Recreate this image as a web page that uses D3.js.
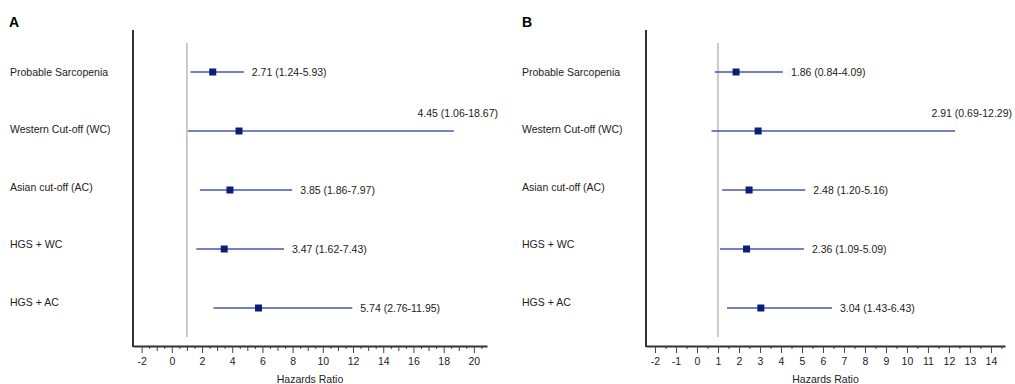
<!DOCTYPE html>
<html>
<head>
<meta charset="utf-8">
<script src="https://cdn.jsdelivr.net/npm/d3@7"></script>
<style>
  body { margin: 0; background: #fff; }
  svg { font-family: "Liberation Sans", Arial, sans-serif; }
</style>
</head>
<body>
<svg id="chart" width="1015" height="384"></svg>
<script>
const categories = ["Probable Sarcopenia", "Western Cut-off (WC)", "Asian cut-off (AC)", "HGS + WC", "HGS + AC"]

// panel A (drawn values)
const hrA = [2.71, 4.45, 3.85, 3.47, 5.74]
const lowA = [1.24, 1.06, 1.86, 1.62, 2.76]
const highA = [4.77, 18.67, 7.97, 7.43, 11.95]
const textA = ["2.71 (1.24-5.93)", "4.45 (1.06-18.67)", "3.85 (1.86-7.97)", "3.47 (1.62-7.43)", "5.74 (2.76-11.95)"]
const labelTicksA = [-2, 0, 2, 4, 6, 8, 10, 12, 14, 16, 18, 20]

// panel B
const hrB = [1.86, 2.91, 2.48, 2.36, 3.04]
const lowB = [0.84, 0.69, 1.20, 1.09, 1.43]
const highB = [4.09, 12.29, 5.16, 5.09, 6.43]
const textB = ["1.86 (0.84-4.09)", "2.91 (0.69-12.29)", "2.48 (1.20-5.16)", "2.36 (1.09-5.09)", "3.04 (1.43-6.43)"]
const labelTicksB = [-2, -1, 0, 1, 2, 3, 4, 5, 6, 7, 8, 9, 10, 11, 12, 13, 14]

const svg = d3.select('#chart')

function drawPanel({ title, left, labelX, axisX, axisRight, textRight, domain, labelTicks, hr, low, high, text }) {
  const g = svg.append('g')
  const top = 30
  const bottom = 346
  const x = d3.scaleLinear().domain(domain).range([axisX, axisRight])
  const y = d3.scalePoint().domain(categories).range([72, 308])
  const yLabel = d3.scalePoint().domain(categories).range([72, 302])

  g.append('text')
    .attr('x', left).attr('y', 27)
    .attr('font-size', 14).attr('font-weight', 'bold')
    .text(title)

  g.selectAll('text.cat')
    .data(categories)
    .join('text')
    .attr('class', 'cat')
    .attr('x', labelX).attr('y', d => yLabel(d))
    .attr('dy', '0.35em')
    .attr('font-size', 10.5).attr('fill', '#222')
    .text(d => d)

  // ticks: half steps, whole steps, labelled
  const lo = Math.ceil(labelTicks[0]), hi = labelTicks[labelTicks.length - 1]
  const halves = d3.range(lo * 2, hi * 2 + 2).map(v => v / 2).filter(v => v % 1 !== 0 && x(v) <= axisRight)
  const wholes = d3.range(lo, hi + 1).filter(v => !labelTicks.includes(v))

  const minorAxis = (vals, size) => g.append('g')
    .attr('transform', `translate(0,${bottom})`)
    .call(d3.axisBottom(x).tickValues(vals).tickSize(size).tickFormat('').tickSizeOuter(0))
    .call(a => a.select('.domain').remove())
    .call(a => a.selectAll('line').attr('stroke', '#444'))
  minorAxis(halves, 3)
  minorAxis(wholes, 5)

  g.append('g')
    .attr('transform', `translate(0,${bottom})`)
    .call(d3.axisBottom(x).tickValues(labelTicks).tickFormat(d => String(d))
      .tickSize(7).tickPadding(5).tickSizeOuter(0))
    .call(a => a.select('.domain').attr('stroke', '#333').attr('stroke-width', 2))
    .call(a => a.selectAll('line').attr('stroke', '#444'))
    .call(a => a.selectAll('text').attr('font-size', 10.5).attr('fill', '#222')
      .attr('font-family', '"Liberation Sans", Arial, sans-serif'))

  g.append('line')
    .attr('x1', axisX).attr('x2', axisX)
    .attr('y1', top).attr('y2', bottom + 1)
    .attr('stroke', '#333').attr('stroke-width', 2)

  g.append('text')
    .attr('x', (axisX + axisRight) / 2).attr('y', 383)
    .attr('text-anchor', 'middle')
    .attr('font-size', 10.5).attr('fill', '#222')
    .text('Hazards Ratio')

  // reference line at HR = 1
  g.append('line')
    .attr('x1', x(1)).attr('x2', x(1))
    .attr('y1', 43).attr('y2', 337)
    .attr('stroke', '#999').attr('stroke-width', 1)

  const rows = categories.map((c, i) => ({ c, hr: hr[i], low: low[i], high: high[i], text: text[i] }))

  g.selectAll('line.ci')
    .data(rows)
    .join('line')
    .attr('class', 'ci')
    .attr('x1', d => x(d.low)).attr('x2', d => x(d.high))
    .attr('y1', d => y(d.c)).attr('y2', d => y(d.c))
    .attr('stroke', '#4a55b0').attr('stroke-width', 1.5)

  g.selectAll('rect.hr')
    .data(rows)
    .join('rect')
    .attr('class', 'hr')
    .attr('x', d => x(d.hr) - 3.5).attr('y', d => y(d.c) - 3.5)
    .attr('width', 7).attr('height', 7)
    .attr('fill', '#0a1f7a')

  g.selectAll('text.val')
    .data(rows)
    .join('text')
    .attr('class', 'val')
    .attr('font-size', 10.5).attr('fill', '#222')
    .attr('dy', '0.35em')
    .each(function (d) {
      const t = d3.select(this).text(d.text)
      const w = this.getComputedTextLength()
      const start = x(d.high) + 8
      if (start + w > textRight) {
        t.attr('x', textRight).attr('text-anchor', 'end').attr('y', y(d.c) - 18)
      } else {
        t.attr('x', start).attr('y', y(d.c))
      }
    })
}

drawPanel({
  title: 'A', left: 9, labelX: 10, axisX: 133, axisRight: 487, textRight: 498,
  domain: [-2.57, 20.87], labelTicks: labelTicksA,
  hr: hrA, low: lowA, high: highA, text: textA
})

drawPanel({
  title: 'B', left: 522, labelX: 522, axisX: 646, axisRight: 1005, textRight: 1012,
  domain: [-2.43, 14.67], labelTicks: labelTicksB,
  hr: hrB, low: lowB, high: highB, text: textB
})
</script>
</body>
</html>
